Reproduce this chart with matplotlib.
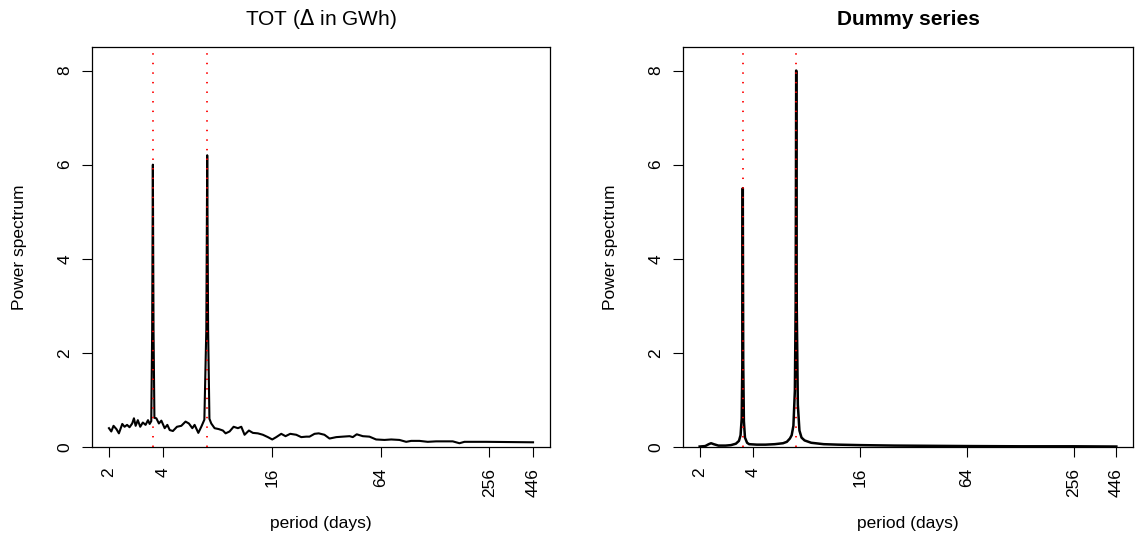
import numpy as np
import matplotlib.pyplot as plt

plt.rcParams['font.family'] = ['Liberation Sans', 'DejaVu Sans']

# left panel: TOT periodogram
tot_period = [2.00, 2.06, 2.12, 2.20, 2.27, 2.37, 2.44, 2.52, 2.60, 2.69, 2.75, 2.81,
              2.89, 2.98, 3.08, 3.19, 3.29, 3.36, 3.43, 3.47, 3.50, 3.53, 3.57, 3.66,
              3.78, 3.90, 4.07, 4.21, 4.34, 4.52, 4.76, 5.03, 5.31, 5.54, 5.79, 5.96,
              6.25, 6.49, 6.75, 6.92, 7.00, 7.08, 7.20, 7.37, 7.69, 8.12, 8.55, 8.85,
              9.31, 9.80, 10.35, 10.81, 11.27, 11.91, 12.53, 13.35, 14.23, 15.17, 16.04,
              16.88, 17.99, 19.00, 20.18, 21.78, 23.22, 24.74, 25.8, 27.5, 29.0, 31.2,
              33.3, 36.3, 39.4, 43.0, 44.8, 47.1, 50.9, 55.4, 60.3, 67.1, 73.1, 81.2,
              88.5, 94.3, 104.8, 116.5, 129.6, 160.2, 174.5, 186.0, 245.2, 446]
tot_power = [0.40, 0.33, 0.45, 0.38, 0.29, 0.49, 0.43, 0.47, 0.42, 0.50, 0.61, 0.45,
             0.57, 0.43, 0.52, 0.47, 0.57, 0.49, 0.55, 2.5, 6.0, 2.5, 0.62, 0.61,
             0.50, 0.56, 0.40, 0.47, 0.36, 0.34, 0.43, 0.45, 0.54, 0.50, 0.40, 0.47,
             0.30, 0.43, 0.58, 2.5, 6.2, 2.5, 0.60, 0.50, 0.40, 0.38, 0.35, 0.29,
             0.33, 0.43, 0.40, 0.43, 0.26, 0.35, 0.30, 0.29, 0.26, 0.21, 0.16,
             0.21, 0.28, 0.23, 0.28, 0.26, 0.21, 0.22, 0.22, 0.28, 0.29, 0.26,
             0.18, 0.21, 0.22, 0.23, 0.21, 0.27, 0.23, 0.22, 0.16, 0.15, 0.16, 0.15,
             0.11, 0.13, 0.13, 0.11, 0.12, 0.12, 0.08, 0.11, 0.11, 0.10]

# right panel: dummy series spectrum
dummy_period = [2.00, 2.15, 2.25, 2.32, 2.40, 2.55, 2.80, 3.00, 3.20, 3.33,
                3.40, 3.45, 3.48, 3.50, 3.52, 3.55, 3.60, 3.70, 3.80, 4.20,
                4.70, 5.30, 5.90, 6.20, 6.45, 6.60, 6.75, 6.88, 6.95, 7.00,
                7.05, 7.15, 7.30, 7.50, 7.80, 8.50, 10.0, 12.0, 16.0, 25.0,
                40.0, 64.0, 128.0, 256.0, 446.0]
dummy_power = [0.01, 0.02, 0.06, 0.08, 0.06, 0.03, 0.03, 0.04, 0.07, 0.13,
               0.25, 0.60, 1.8, 5.5, 1.8, 0.55, 0.20, 0.09, 0.06, 0.05,
               0.05, 0.06, 0.08, 0.11, 0.18, 0.25, 0.45, 1.2, 3.0, 8.0,
               3.0, 0.9, 0.35, 0.20, 0.14, 0.09, 0.06, 0.05, 0.04, 0.03,
               0.025, 0.02, 0.015, 0.015, 0.01]

marked_periods = [3.5, 7]
xticks = [2, 4, 16, 64, 256, 446]
yticks = [0, 2, 4, 6, 8]

fig = plt.figure(figsize=(11.35, 5.36), dpi=100)
ax1 = fig.add_axes([92/1135, 89/536, 458/1135, 400/536])
ax2 = fig.add_axes([683/1135, 89/536, 450/1135, 400/536])

pad = (446/2) ** 0.04
for ax, per, pw, title, weight, lw in [
        (ax1, tot_period, tot_power, 'TOT ($\\Delta$ in GWh)', 'normal', 1.5),
        (ax2, dummy_period, dummy_power, 'Dummy series', 'bold', 1.8)]:
    ax.plot(per, pw, color='black', lw=lw, solid_joinstyle='round')
    for p in marked_periods:
        ax.plot([p, p], [0, 8.4], color='red', lw=1.3, ls=(0, (0.8, 4.5)), zorder=3)
    ax.set_xscale('log', base=2)
    ax.set_xlim(2/pad, 446*pad)
    ax.set_ylim(0, 8.5)
    ax.set_xticks(xticks)
    ax.set_xticklabels([str(t) for t in xticks], rotation=90, fontsize=12.5)
    ax.minorticks_off()
    ax.set_yticks(yticks)
    ax.set_yticklabels([str(t) for t in yticks], rotation=90, va='center', fontsize=12.5)
    ax.tick_params(length=7, width=0.8, direction='out')
    ax.tick_params(axis='x', pad=8)
    ax.tick_params(axis='y', pad=7)
    for s in ax.spines.values():
        s.set_linewidth(0.9)
    ax.set_xlabel('period (days)', fontsize=12.5, labelpad=14)
    ax.set_ylabel('Power spectrum', fontsize=12.5, labelpad=22)
    ax.set_title(title, fontsize=15, fontweight=weight, pad=16)

fig.savefig('out.png', dpi=100)
